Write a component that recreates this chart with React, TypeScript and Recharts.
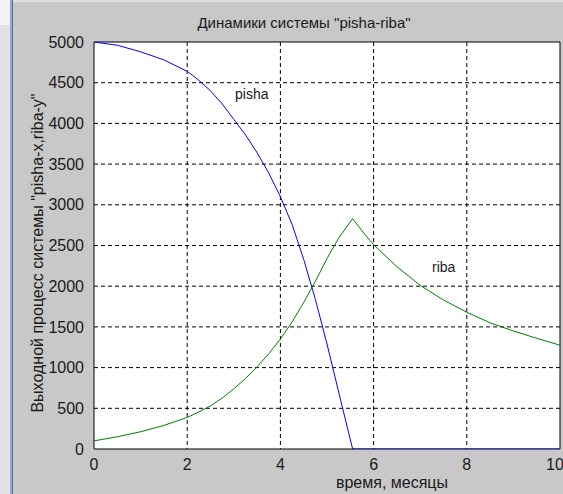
import React from "react";
import { LineChart, Line, XAxis, YAxis, CartesianGrid, ReferenceArea } from "recharts";

const times = [0, 0.5, 1, 1.5, 2, 2.25, 2.5, 2.75, 3, 3.25, 3.5, 3.75, 4, 4.25, 4.5, 4.75, 5, 5.25, 5.55, 5.75, 6, 6.5, 7, 7.5, 8, 8.5, 9, 9.5, 10];
const pisha = [5000, 4960, 4880, 4780, 4640, 4530, 4400, 4240, 4050, 3860, 3640, 3390, 3100, 2760, 2330, 1840, 1290, 700, 0, 0, 0, 0, 0, 0, 0, 0, 0, 0, 0];
const riba = [100, 150, 212, 290, 388, 455, 530, 625, 740, 865, 1010, 1170, 1350, 1560, 1800, 2060, 2340, 2590, 2830, 2680, 2510, 2240, 2010, 1830, 1680, 1550, 1450, 1360, 1275];
const xTicks = [0, 2, 4, 6, 8, 10];
const yTicks = [0, 500, 1000, 1500, 2000, 2500, 3000, 3500, 4000, 4500, 5000];

const title = 'Динамики системы "pisha-riba"';
const xLabel = "время, месяцы";
const yLabel = 'Выходной процесс системы "pisha-x,riba-y"';

const data = times.map((t, i) => ({ t, pisha: pisha[i], riba: riba[i] }));

const FONT = "'Liberation Sans Narrow', 'Liberation Sans', Arial, sans-serif";
const TXT = "#1a1a1a";

export default function App() {
  return (
    <div style={{ position: "fixed", left: 0, top: 0, width: 563, height: 494, background: "#c8c8c8", overflow: "hidden", fontFamily: FONT }}>
      <div style={{ position: "absolute", left: 0, top: 0, width: 10, height: 25, background: "#f4f4f4" }} />
      <div style={{ position: "absolute", left: 0, top: 25, width: 10, height: 469, background: "#e2e2e2" }} />
      <div style={{ position: "absolute", left: 10, top: 0, width: 2, height: 494, background: "#86aedb" }} />
      <div style={{ position: "absolute", left: 12, top: 0, width: 1, height: 494, background: "#5a6f88" }} />
      <div style={{ position: "absolute", left: 13, top: 0, width: 550, height: 2, background: "#e0e0e0" }} />
      <div style={{ position: "absolute", left: 0, top: 0 }}>
        <LineChart width={563} height={494} data={data} margin={{ top: 42, right: 3, bottom: 14, left: 34 }}>
          <CartesianGrid fill="#ffffff" stroke="#000" strokeDasharray="4 3" horizontalValues={yTicks.slice(1, -1)} verticalValues={xTicks.slice(1, -1)} />
          <XAxis dataKey="t" type="number" domain={[0, 10]} ticks={xTicks} allowDataOverflow height={31}
            tickLine={false} axisLine={false} tick={{ fill: TXT, fontSize: 16, fontFamily: FONT }} tickMargin={4} />
          <YAxis type="number" domain={[0, 5000]} ticks={yTicks} allowDataOverflow width={60}
            tickLine={false} axisLine={false} tick={{ fill: TXT, fontSize: 16, fontFamily: FONT }} tickMargin={4} />
          <ReferenceArea x1={0} x2={10} y1={0} y2={5000} fill="none" stroke="#000" strokeWidth={1} fillOpacity={0} ifOverflow="visible" />
          <Line type="linear" dataKey="riba" stroke="#008000" strokeWidth={1} dot={false} isAnimationActive={false} />
          <Line type="linear" dataKey="pisha" stroke="#0000ff" strokeWidth={1} dot={false} isAnimationActive={false} />
        </LineChart>
      </div>
      <div style={{ position: "absolute", left: 0, top: 14, width: 608, textAlign: "center", fontSize: 15, color: TXT, lineHeight: "18px" }}>{title}</div>
      <div style={{ position: "absolute", left: 292, top: 474, width: 200, textAlign: "center", fontSize: 16, color: TXT, lineHeight: "18px" }}>{xLabel}</div>
      <div style={{ position: "absolute", left: 38 - 200, top: 253 - 9, width: 400, height: 18, textAlign: "center", fontSize: 16, color: TXT, lineHeight: "18px", transform: "rotate(-90deg)" }}>{yLabel}</div>
      <div style={{ position: "absolute", left: 235, top: 86, fontSize: 14, color: TXT, lineHeight: "16px" }}>pisha</div>
      <div style={{ position: "absolute", left: 432, top: 259, fontSize: 14, color: TXT, lineHeight: "16px" }}>riba</div>
    </div>
  );
}
